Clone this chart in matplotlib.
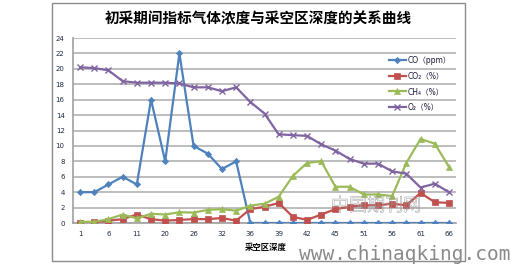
import matplotlib
matplotlib.use("Agg")
import matplotlib.pyplot as plt
import matplotlib.patheffects as pe
from matplotlib.patches import Rectangle
import numpy as np

plt.rcParams['font.family'] = ['DejaVu Sans', 'Noto Sans CJK SC']

title = "初采期间指标气体浓度与采空区深度的关系曲线"
x_title = "采空区深度"
tick_labels = ['1', '6', '11', '20', '26', '32', '36', '39', '42', '45', '51', '56', '61', '66']

co = [4, 4, 5, 6, 5, 16, 8, 22, 10, 9, 7, 8, 0, 0, 0, 0, 0, 0, 0, 0, 0, 0, 0, 0, 0, 0, 0]
co2 = [0.05, 0.1, 0.3, 0.5, 1.1, 0.5, 0.3, 0.4, 0.5, 0.5, 0.65, 0.3, 1.8, 2.1, 2.6, 0.8, 0.4,
       1.1, 1.8, 2.1, 2.3, 2.3, 2.5, 2.3, 3.9, 2.7, 2.6]
ch4 = [0.15, 0.15, 0.5, 1.1, 0.6, 1.2, 1.1, 1.4, 1.35, 1.7, 1.8, 1.6, 2.25, 2.5, 3.4, 6.1, 7.8,
       8.0, 4.7, 4.7, 3.7, 3.7, 3.5, 7.8, 10.9, 10.3, 7.3]
o2 = [20.2, 20.1, 19.8, 18.4, 18.2, 18.2, 18.2, 18.1, 17.6, 17.6, 17.1, 17.6, 15.7, 14.2, 11.5,
      11.4, 11.3, 10.2, 9.4, 8.3, 7.7, 7.7, 6.7, 6.4, 4.6, 5.1, 4.0]
series_names = ['CO（ppm）', 'CO₂（%）', 'CH₄（%）', 'O₂（%）']

W, H = 521, 265
fig = plt.figure(figsize=(W / 100, H / 100), dpi=100)
ax = fig.add_axes([73 / W, 1 - 223 / H, (456 - 73) / W, (223 - 38) / H])

x = np.arange(len(co))
colors = ['#4F81BD', '#C0504D', '#9BBB59', '#8064A2']
markers = ['D', 's', '^', 'x']
msizes = [3.2, 4, 4.5, 4]
for data, name, c, m, ms in zip([co, co2, ch4, o2], series_names, colors, markers, msizes):
    ax.plot(x, data, color=c, lw=1.6, marker=m, ms=ms, mew=1 if m == 'x' else 0.5,
            mec=c, mfc=c, label=name, zorder=3)

ax.set_xlim(-0.5, len(co) - 0.5)
ax.set_ylim(0, 24)
ax.set_yticks(np.arange(0, 25, 2))
ax.set_xticks(x[::2])
ax.set_xticklabels(tick_labels)
ax.grid(axis='y', color='#b8b8b8', lw=1.3, zorder=0)
ax.set_axisbelow(True)
for s in ['top', 'right']:
    ax.spines[s].set_visible(False)
ax.spines['left'].set_color('#a0a0a0')
ax.spines['bottom'].set_color('#a0a0a0')
ax.spines['left'].set_linewidth(1.2)
ax.spines['bottom'].set_linewidth(1.2)
ax.tick_params(axis='both', length=0, labelsize=5, labelcolor='#1f2a4a')
ax.tick_params(axis='x', pad=6)
ax.tick_params(axis='y', pad=6)

leg = ax.legend(loc='upper left', bbox_to_anchor=((389 - 73) / (456 - 73), (223 - 56) / (223 - 38)),
                frameon=False, fontsize=5.5, handlelength=2.2, labelspacing=0.85,
                handletextpad=0.2, borderaxespad=0, borderpad=0)
for t in leg.get_texts():
    t.set_color('#1a1a3a')

fig.text(258 / W, 1 - 18 / H, title, ha='center', va='center', fontsize=10.5,
         fontweight='bold', family=['Noto Sans CJK SC'])
fig.text(266 / W, 1 - 247 / H, x_title, ha='center', va='center', fontsize=6,
         fontweight='bold', family=['Noto Sans CJK SC'])

fig.patches.append(Rectangle((52 / W, 1 - 261 / H), (465 - 52) / W, (261 - 3) / H,
                             transform=fig.transFigure, fill=False, ec='#8c8c8c', lw=1))

# watermarks
wm = fig.text(376 / W, 1 - 206 / H, "中国期刊网", ha='center', va='center', fontsize=13,
              family=['Noto Sans CJK SC'], color='none', zorder=5)
wm.set_path_effects([pe.Stroke(linewidth=0.35, foreground='#9a9a9a')])
fig.text(405 / W, 1 - 254 / H, "www.chinaqking.com", ha='center', va='center', fontsize=14,
         color='#8a8a8a', family=['DejaVu Sans Mono'])

fig.savefig('out.png', dpi=100)
